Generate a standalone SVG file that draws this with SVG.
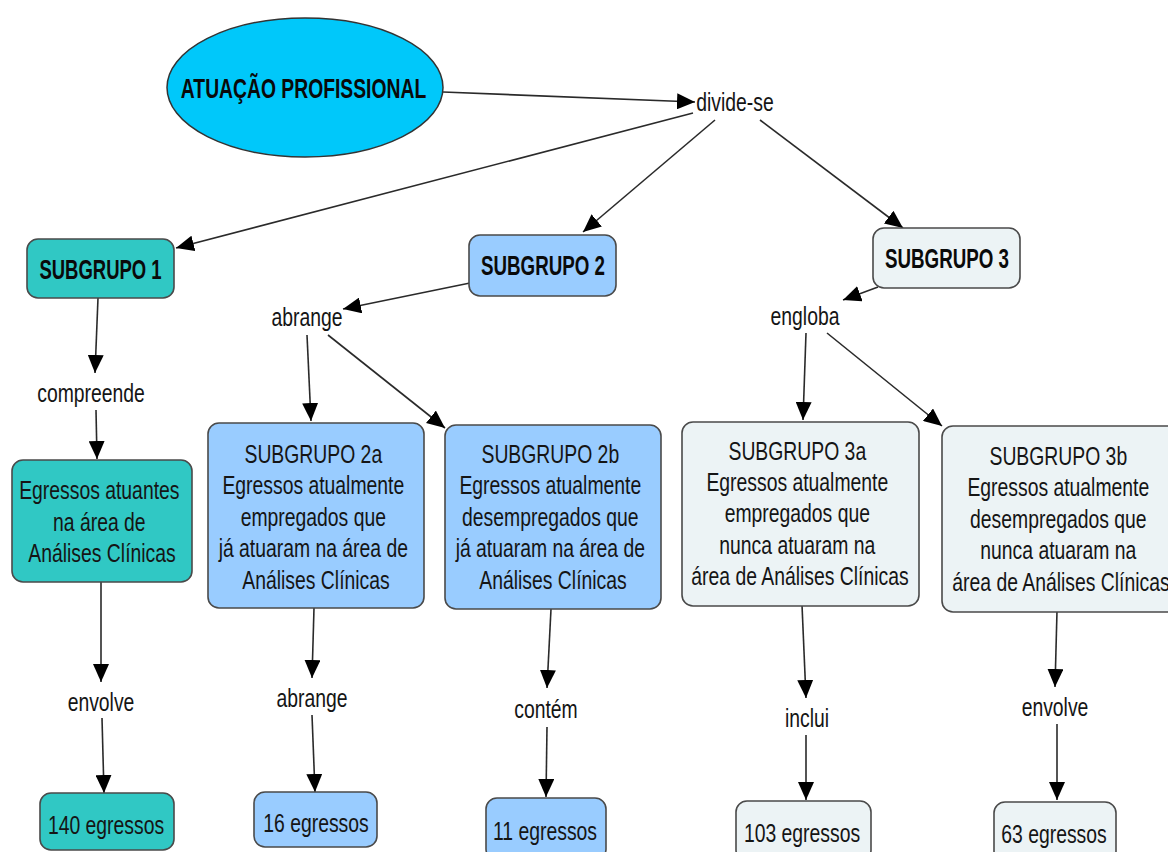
<svg xmlns="http://www.w3.org/2000/svg" width="1168" height="852" viewBox="0 0 1168 852">
<style>
  .bg{fill:#ffffff}
  .box{stroke:#4a4a4a;stroke-width:1.6}
  .teal{fill:#30C8C4}
  .blue{fill:#99CCFF}
  .light{fill:#ECF3F5}
  .ell{fill:#00C8FA;stroke:#333;stroke-width:1.5}
  .t{font-family:"Liberation Sans",Arial,sans-serif;font-size:26px;fill:#151515;text-anchor:middle}
  .b{font-family:"Liberation Sans",Arial,sans-serif;font-size:28px;font-weight:bold;fill:#0a0a0a;text-anchor:middle}
  .c{fill:none;stroke:#2a2a2a;stroke-width:1.6;marker-end:url(#ah)}
</style>
<defs>
  <marker id="ah" markerUnits="userSpaceOnUse" markerWidth="18" markerHeight="16" refX="18" refY="8" orient="auto">
    <path d="M0,0 L18,8 L0,16 z" fill="#000"/>
  </marker>
</defs>
<rect class="bg" x="0" y="0" width="1168" height="852"/>

<g id="connectors">
  <line class="c" x1="443" y1="92" x2="695" y2="102"/>
  <line class="c" x1="693" y1="113" x2="176" y2="248"/>
  <line class="c" x1="715" y1="120" x2="583" y2="232"/>
  <line class="c" x1="760" y1="120" x2="903" y2="228"/>
  <line class="c" x1="98" y1="298" x2="95" y2="373"/>
  <line class="c" x1="96" y1="410" x2="97" y2="459"/>
  <line class="c" x1="101" y1="582" x2="101" y2="682"/>
  <line class="c" x1="102" y1="718" x2="104" y2="793"/>
  <line class="c" x1="470" y1="283" x2="343" y2="309"/>
  <line class="c" x1="307" y1="335" x2="311" y2="421"/>
  <line class="c" x1="328" y1="335" x2="445" y2="428"/>
  <line class="c" x1="314" y1="608" x2="312" y2="678"/>
  <line class="c" x1="312" y1="715" x2="315" y2="792"/>
  <line class="c" x1="551" y1="609" x2="547" y2="688"/>
  <line class="c" x1="547" y1="727" x2="546" y2="797"/>
  <line class="c" x1="878" y1="287" x2="843" y2="300"/>
  <line class="c" x1="806" y1="333" x2="803" y2="420"/>
  <line class="c" x1="827" y1="333" x2="942" y2="426"/>
  <line class="c" x1="802" y1="605" x2="806" y2="698"/>
  <line class="c" x1="806" y1="735" x2="806" y2="800"/>
  <line class="c" x1="1057" y1="611" x2="1055" y2="687"/>
  <line class="c" x1="1057" y1="724" x2="1057" y2="800"/>
</g>

<g id="atuacao">
  <ellipse class="ell" cx="305" cy="87.5" rx="138" ry="69.5"/>
  <text class="b" transform="translate(303.5 0) scale(0.69 1)" x="0" y="98">ATUAÇÃO PROFISSIONAL</text>
</g>

<g id="divide-se"><text class="t" transform="translate(735 0) scale(0.745 1)" x="0" y="111">divide-se</text></g>

<g id="subgrupo1">
  <rect class="box teal" x="27" y="239" width="147" height="59" rx="11"/>
  <text class="b" transform="translate(100.5 0) scale(0.66 1)" x="0" y="279">SUBGRUPO 1</text>
</g>
<g id="subgrupo2">
  <rect class="box blue" x="469" y="235" width="147" height="61" rx="11"/>
  <text class="b" transform="translate(543 0) scale(0.67 1)" x="0" y="275">SUBGRUPO 2</text>
</g>
<g id="subgrupo3">
  <rect class="box light" x="873" y="228" width="147" height="60" rx="11"/>
  <text class="b" transform="translate(947 0) scale(0.67 1)" x="0" y="268">SUBGRUPO 3</text>
</g>

<g id="lbl-compreende"><text class="t" transform="translate(91 0) scale(0.745 1)" x="0" y="402">compreende</text></g>
<g id="lbl-abrange1"><text class="t" transform="translate(307 0) scale(0.745 1)" x="0" y="326">abrange</text></g>
<g id="lbl-engloba"><text class="t" transform="translate(805 0) scale(0.745 1)" x="0" y="325">engloba</text></g>

<g id="egressos-atuantes">
  <rect class="box teal" x="12" y="460" width="180" height="122" rx="11"/>
  <text class="t" transform="translate(102 0) scale(0.745 1)">
    <tspan x="0" y="499">Egressos atuantes</tspan>
    <tspan x="0" y="531">na área de</tspan>
    <tspan x="0" y="562">Análises Clínicas</tspan>
  </text>
</g>
<g id="subgrupo2a">
  <rect class="box blue" x="208" y="423" width="216" height="185" rx="11"/>
  <text class="t" transform="translate(316 0) scale(0.745 1)">
    <tspan x="0" y="463">SUBGRUPO 2a</tspan>
    <tspan x="0" y="494.5">Egressos atualmente</tspan>
    <tspan x="0" y="526">empregados que</tspan>
    <tspan x="0" y="557.5">já atuaram na área de</tspan>
    <tspan x="0" y="589">Análises Clínicas</tspan>
  </text>
</g>
<g id="subgrupo2b">
  <rect class="box blue" x="445" y="425" width="216" height="184" rx="11"/>
  <text class="t" transform="translate(553 0) scale(0.745 1)">
    <tspan x="0" y="463">SUBGRUPO 2b</tspan>
    <tspan x="0" y="494.5">Egressos atualmente</tspan>
    <tspan x="0" y="526">desempregados que</tspan>
    <tspan x="0" y="557.5">já atuaram na área de</tspan>
    <tspan x="0" y="589">Análises Clínicas</tspan>
  </text>
</g>
<g id="subgrupo3a">
  <rect class="box light" x="682" y="422" width="237" height="184" rx="11"/>
  <text class="t" transform="translate(800 0) scale(0.745 1)">
    <tspan x="0" y="460">SUBGRUPO 3a</tspan>
    <tspan x="0" y="491">Egressos atualmente</tspan>
    <tspan x="0" y="522.5">empregados que</tspan>
    <tspan x="0" y="554">nunca atuaram na</tspan>
    <tspan x="0" y="585">área de Análises Clínicas</tspan>
  </text>
</g>
<g id="subgrupo3b">
  <rect class="box light" x="942" y="426" width="238" height="186" rx="11"/>
  <text class="t" transform="translate(1061 0) scale(0.745 1)">
    <tspan x="0" y="465">SUBGRUPO 3b</tspan>
    <tspan x="0" y="496.5">Egressos atualmente</tspan>
    <tspan x="0" y="528">desempregados que</tspan>
    <tspan x="0" y="559.5">nunca atuaram na</tspan>
    <tspan x="0" y="591">área de Análises Clínicas</tspan>
  </text>
</g>

<g id="lbl-envolve1"><text class="t" transform="translate(101 0) scale(0.745 1)" x="0" y="711">envolve</text></g>
<g id="lbl-abrange2"><text class="t" transform="translate(312 0) scale(0.745 1)" x="0" y="707">abrange</text></g>
<g id="lbl-contem"><text class="t" transform="translate(546 0) scale(0.745 1)" x="0" y="718">contém</text></g>
<g id="lbl-inclui"><text class="t" transform="translate(807 0) scale(0.745 1)" x="0" y="727">inclui</text></g>
<g id="lbl-envolve2"><text class="t" transform="translate(1055 0) scale(0.745 1)" x="0" y="716">envolve</text></g>

<g id="n140">
  <rect class="box teal" x="40" y="793" width="134" height="57" rx="11"/>
  <text class="t" transform="translate(106 0) scale(0.745 1)" x="0" y="834">140 egressos</text>
</g>
<g id="n16">
  <rect class="box blue" x="254" y="792" width="123" height="55" rx="11"/>
  <text class="t" transform="translate(316 0) scale(0.745 1)" x="0" y="832">16 egressos</text>
</g>
<g id="n11">
  <rect class="box blue" x="486" y="798" width="120" height="62" rx="11"/>
  <text class="t" transform="translate(545 0) scale(0.745 1)" x="0" y="840">11 egressos</text>
</g>
<g id="n103">
  <rect class="box light" x="736" y="801" width="135" height="60" rx="11"/>
  <text class="t" transform="translate(802 0) scale(0.745 1)" x="0" y="842">103 egressos</text>
</g>
<g id="n63">
  <rect class="box light" x="994" y="802" width="122" height="60" rx="11"/>
  <text class="t" transform="translate(1054 0) scale(0.745 1)" x="0" y="843">63 egressos</text>
</g>
</svg>
